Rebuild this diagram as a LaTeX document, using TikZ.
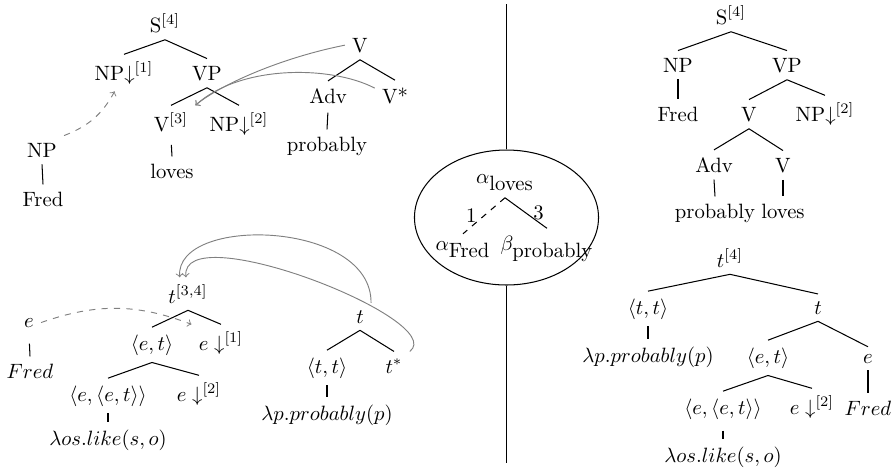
\documentclass[tikz,border=0pt]{standalone}
\usetikzlibrary{shapes.geometric}
\begin{document}
\begin{tikzpicture}[x=0.483pt,y=-0.483pt,
  tn/.style={anchor=base, inner sep=0.333em},
  br/.style={draw=black, line width=0.5pt},
  arr/.style={draw=black!50, ->, line width=0.45pt},
  lbl/.style={inner sep=0.333em}]
\useasboundingbox (0,0) rectangle (891,473);
% ---------- left top: elementary trees ----------
\node[tn] (S4) at (165,32) {S$^{[4]}$};
\node[tn] (NP1) at (124,80) {NP$\downarrow^{[1]}$};
\node[tn] (VP) at (207,80) {VP};
\node[tn] (V3) at (171,131) {V$^{[3]}$};
\node[tn] (NP2) at (239,131) {NP$\downarrow^{[2]}$};
\node[tn] (lovesA) at (172,178) {loves};
\node[tn] (NPf) at (42,157) {NP};
\node[tn] (FredA) at (43,206) {Fred};
\node[tn] (Vt) at (360,52) {V};
\node[tn] (Adv) at (328,103) {Adv};
\node[tn] (Vs) at (395,103) {V*};
\node[tn] (probA) at (327,151) {probably};
\draw[br] (S4.south) -- (NP1.north);
\draw[br] (S4.south) -- (VP.north);
\draw[br] (VP.south) -- (V3.north);
\draw[br] (VP.south) -- (NP2.north);
\draw[br, shorten <=3pt] (V3.south) -- (lovesA.north);
\draw[br] (NPf.south) -- (FredA.north);
\draw[br] (Vt.south) -- (Adv.north);
\draw[br] (Vt.south) -- (Vs.north);
\draw[br, shorten <=1pt] (Adv.south) -- (probA.north);
\draw[arr, dashed] (NPf.north east) to[bend right=20] ([xshift=-4.5pt]NP1.south);
\draw[arr] (Vt.west) .. controls (280,58) and (220,85) .. (V3.north east);
\draw[arr] (Vs.160) .. controls (330,65) and (240,65) .. (V3.north east);
% ---------- left bottom: semantic trees ----------
\node[tn] (t34) at (188,303) {$t^{[3,4]}$};
\node[tn] (et) at (152,350) {$\langle e,t\rangle$};
\node[tn] (e1) at (221,350) {$e\downarrow^{[1]}$};
\node[tn] (eet) at (108,401) {$\langle e,\langle e,t\rangle\rangle$};
\node[tn] (e2) at (199,401) {$e\downarrow^{[2]}$};
\node[tn] (lam1) at (108,445) {$\lambda os.like(s,o)$};
\node[tn] (eL) at (29,327) {$e$};
\node[tn] (FredI) at (30,378) {$Fred$};
\node[tn] (tB) at (360,323) {$t$};
\node[tn] (ttL) at (327,373) {$\langle t,t\rangle$};
\node[tn] (ts) at (394,373) {$t^*$};
\node[tn] (lamp) at (327,420) {$\lambda p.probably(p)$};
\draw[br] (t34.south) -- (et.north);
\draw[br] (t34.south) -- (e1.north);
\draw[br] (et.south) -- (eet.north);
\draw[br] (et.south) -- (e2.north);
\draw[br] (eet.south) -- (lam1.north);
\draw[br, shorten <=4.5pt] (eL.south) -- (FredI.north);
\draw[br] (tB.south) -- (ttL.north);
\draw[br] (tB.south) -- (ts.north);
\draw[br] (ttL.south) -- (lamp.north);
\draw[arr, dashed] (eL.east) to[bend left=20] (e1.north west);
\draw[arr] (tB.north east) .. controls (372,220) and (175,215) .. ([xshift=-4pt]t34.north);
\draw[arr] (ts.north east) .. controls (450,320) and (180,215) .. ([xshift=-1pt]t34.north);
% ---------- centre: derivation tree ----------
\coordinate (vtop) at (506.5,4);
\coordinate (vbot) at (506.5,463);
\node[draw, line width=0.5pt, ellipse, minimum width=88.9pt, minimum height=65.2pt, inner sep=0pt] (ell) at (506.5,217.5) {};
\draw[br] (vtop) -- (ell.north);
\draw[br] (ell.south) -- (vbot);
\node[tn] (aloves) at (505,183) {$\alpha_{\mbox{loves}}$};
\node[tn] (aFred) at (463,250) {$\alpha_{\mbox{Fred}}$};
\node[tn] (bprob) at (547,250) {$\beta_{\mbox{probably}}$};
\draw[br, dashed] (aloves.south) -- node[lbl, midway, left] {1} (aFred.north);
\draw[br] (aloves.south) -- node[lbl, midway, right] {3} (bprob.north);
% ---------- right top: derived tree ----------
\node[tn] (S4r) at (731,24) {S$^{[4]}$};
\node[tn] (NPr) at (678,72) {NP};
\node[tn] (VPr) at (787,72) {VP};
\node[tn] (FredR) at (678,121) {Fred};
\node[tn] (Vr) at (749,121) {V};
\node[tn] (NP2r) at (825,121) {NP$\downarrow^{[2]}$};
\node[tn] (Advr) at (714,172) {Adv};
\node[tn] (Vr2) at (783,172) {V};
\node[tn] (probR) at (715,218) {probably};
\node[tn] (lovesR) at (783,218) {loves};
\draw[br] (S4r.south) -- (NPr.north);
\draw[br] (S4r.south) -- (VPr.north);
\draw[br] (NPr.south) -- (FredR.north);
\draw[br] (VPr.south) -- (Vr.north);
\draw[br] (VPr.south) -- (NP2r.north);
\draw[br] (Vr.south) -- (Advr.north);
\draw[br] (Vr.south) -- (Vr2.north);
\draw[br] (Advr.south) -- (probR.north);
\draw[br] (Vr2.south) -- (lovesR.north);
% ---------- right bottom: derived semantics ----------
\node[tn] (t4r) at (730,267) {$t^{[4]}$};
\node[tn] (ttR) at (648,314) {$\langle t,t\rangle$};
\node[tn] (tR) at (818,314) {$t$};
\node[tn] (lampR) at (648,362) {$\lambda p.probably(p)$};
\node[tn] (etR) at (768,363) {$\langle e,t\rangle$};
\node[tn] (eR) at (868,363) {$e$};
\node[tn] (eetR) at (723,414) {$\langle e,\langle e,t\rangle\rangle$};
\node[tn] (e2R) at (812,414) {$e\downarrow^{[2]}$};
\node[tn] (FredR2) at (868,415) {$Fred$};
\node[tn] (lam2R) at (723,462) {$\lambda os.like(s,o)$};
\draw[br] (t4r.south) -- (ttR.north);
\draw[br] (t4r.south) -- (tR.north);
\draw[br] (ttR.south) -- (lampR.north);
\draw[br] (tR.south) -- (etR.north);
\draw[br] (tR.south) -- (eR.north);
\draw[br] (etR.south) -- (eetR.north);
\draw[br] (etR.south) -- (e2R.north);
\draw[br] (eR.south) -- (FredR2.north);
\draw[br, shorten <=2pt] (eetR.south) -- (lam2R.north);
\end{tikzpicture}
\end{document}
